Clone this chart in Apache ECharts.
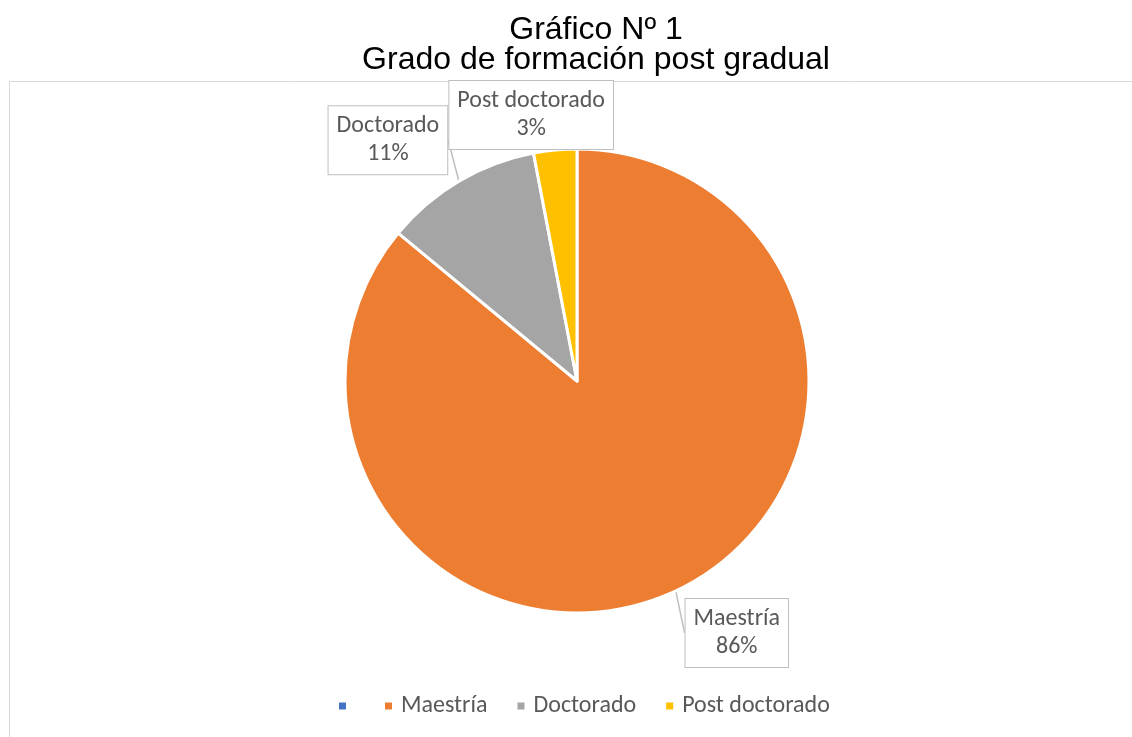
<!DOCTYPE html>
<html>
<head>
<meta charset="utf-8">
<script src="https://cdn.jsdelivr.net/npm/echarts@6/dist/echarts.min.js"></script>
<style>
html,body{margin:0;padding:0;background:#fff;}
#chart{width:1132px;height:737px;}
</style>
</head>
<body>
<div id="chart"></div>
<script>
const titleLines = ['Gráfico Nº 1', 'Grado de formación post gradual'];
const categories = ['\u200B', 'Maestría', 'Doctorado', 'Post doctorado'];
const values = [0, 86, 11, 3];
const colors = ['#4472C4', '#ED7D31', '#A5A5A5', '#FFC000'];
// label box offsets from slice anchor (callout placement)
const labelOffsets = [[0, 0], [61, 42], [-71, -41], [-24, -35]];

const chart = echarts.init(document.getElementById('chart'));
const labelFont = 'Carlito, Lato, "Open Sans", sans-serif';

const data = categories.map((c, i) => {
  const item = { name: c, value: values[i], itemStyle: { color: colors[i] } };
  if (values[i] === 0) {
    item.label = { show: false };
    item.labelLine = { show: false };
  }
  if (i === 3) {
    item.labelLine = { show: false };
  }
  return item;
});

chart.setOption({
  animation: false,
  backgroundColor: '#fff',
  title: {
    text: titleLines.join('\n'),
    left: 591,
    top: 10,
    textAlign: 'center',
    padding: 5,
    textStyle: {
      fontFamily: '"Liberation Sans", Arial, sans-serif',
      fontSize: 32,
      fontWeight: 'normal',
      color: '#000',
      lineHeight: 30
    }
  },
  graphic: [{
    type: 'rect',
    shape: { x: 9.5, y: 81.5, width: 1200, height: 800 },
    style: { fill: 'none', stroke: '#d9d9d9', lineWidth: 1 },
    z: -1
  }],
  legend: {
    data: categories,
    bottom: 14,
    left: 332,
    icon: 'rect',
    itemWidth: 9,
    itemHeight: 9,
    itemGap: 28,
    textStyle: {
      fontFamily: labelFont,
      fontSize: 24,
      color: '#595959',
      padding: [0, 0, 0, 3]
    }
  },
  series: [{
    type: 'pie',
    center: [577, 381],
    radius: 232,
    startAngle: 90,
    clockwise: true,
    data: data,
    itemStyle: { borderColor: '#fff', borderWidth: 3 },
    label: {
      show: true,
      position: 'outside',
      formatter: '{b}\n{d}%',
      fontFamily: labelFont,
      fontSize: 24,
      lineHeight: 28,
      color: '#595959',
      backgroundColor: '#fff',
      borderColor: '#bfbfbf',
      borderWidth: 1,
      padding: [6, 8],
      align: 'center'
    },
    labelLine: {
      show: true,
      length: 4,
      length2: 0,
      lineStyle: { color: '#bfbfbf', width: 1.5 }
    },
    labelLayout: function (params) {
      const off = labelOffsets[params.dataIndex];
      const p = params.labelLinePoints ? params.labelLinePoints[0] : [0, 0];
      return {
        x: p[0] + off[0],
        y: p[1] + off[1],
        align: 'center',
        verticalAlign: 'middle'
      };
    },
    emphasis: { disabled: true }
  }]
});
</script>
</body>
</html>
